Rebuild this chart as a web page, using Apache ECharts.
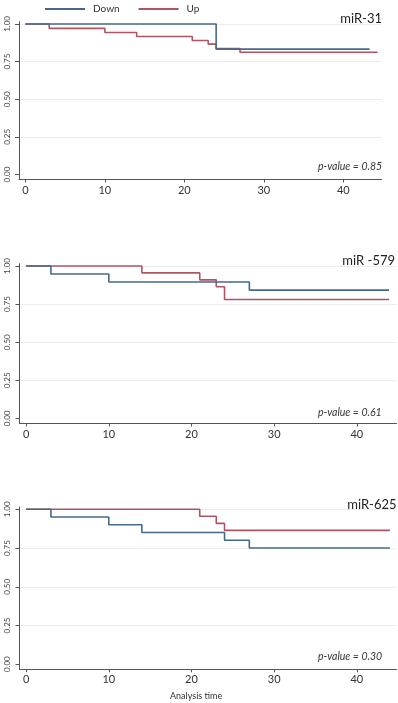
<!DOCTYPE html>
<html>
<head>
<meta charset="utf-8">
<script src="https://cdn.jsdelivr.net/npm/echarts@6/dist/echarts.min.js"></script>
<style>
  html, body { margin: 0; padding: 0; background: #fff; }
  #chart { width: 398px; height: 703px; }
</style>
</head>
<body>
<div id="chart"></div>
<script>
// Kaplan-Meier steps: times and survival per panel
const panelNames = ['miR-31', 'miR -579', 'miR-625'];
const pValues = ['p-value = 0.85', 'p-value = 0.61', 'p-value = 0.30'];

const p1DownT = [0, 24, 43.3];
const p1DownS = [1, 0.833, 0.833];
const p1UpT = [0, 3, 10, 14, 21, 23, 24, 27, 44.3];
const p1UpS = [1, 0.971, 0.943, 0.917, 0.89, 0.866, 0.836, 0.812, 0.812];

const p2DownT = [0, 3, 10, 27, 43.9];
const p2DownS = [1, 0.947, 0.895, 0.842, 0.842];
const p2UpT = [0, 14, 21, 23, 24, 43.9];
const p2UpS = [1, 0.955, 0.909, 0.864, 0.78, 0.78];

const p3DownT = [0, 3, 10, 14, 24, 27, 44];
const p3DownS = [1, 0.95, 0.9, 0.85, 0.8, 0.75, 0.75];
const p3UpT = [0, 21, 23, 24, 44];
const p3UpS = [1, 0.955, 0.909, 0.864, 0.864];

const xTicks = [0, 10, 20, 30, 40];
const yTicks = [0, 0.25, 0.5, 0.75, 1];
const gridVals = [0.25, 0.5, 0.75, 1];

const downColor = '#45698a';
const upColor = '#ad5563';
const axisColor = '#555';
const fontFamily = 'Lato, "Open Sans", sans-serif';

const panels = [
    { down: [p1DownT, p1DownS], up: [p1UpT, p1UpS] },
    { down: [p2DownT, p2DownS], up: [p2UpT, p2UpS] },
    { down: [p3DownT, p3DownS], up: [p3UpT, p3UpS] }
];

const grids = [
    { left: 19, top: 21.7, width: 362.5, height: 157.8 },
    { left: 19.5, top: 263.7, width: 377, height: 159.8 },
    { left: 19.5, top: 507, width: 377, height: 162.3 }
];

function zip(t, s) {
    return t.map((v, i) => [v, s[i]]);
}

let xAxes = [];
let yAxes = [];
let series = [];

for (let i = 0; i < panels.length; i++) {
    xAxes.push({
        gridIndex: i,
        type: 'value',
        min: -0.8,
        max: 44.8,
        axisLine: { show: true, onZero: false, lineStyle: { color: axisColor, width: 1 } },
        axisTick: { show: true, length: 3, customValues: xTicks, lineStyle: { color: axisColor } },
        axisLabel: { customValues: xTicks, fontSize: 11, margin: 5, color: '#333', fontFamily },
        splitLine: { show: false }
    });
    yAxes.push({
        gridIndex: i,
        type: 'value',
        min: -0.033,
        max: 1.015,
        axisLine: { show: true, onZero: false, lineStyle: { color: axisColor, width: 1 } },
        axisTick: { show: true, length: 4, customValues: yTicks, lineStyle: { color: axisColor } },
        axisLabel: {
            customValues: yTicks,
            rotate: 90,
            fontSize: 8,
            margin: 8,
            color: '#444',
            fontFamily,
            formatter: v => v.toFixed(2)
        },
        splitLine: { show: false }
    });

    // faint horizontal gridlines
    series.push({
        name: 'grid' + i,
        type: 'line',
        xAxisIndex: i,
        yAxisIndex: i,
        data: [],
        z: 0,
        markLine: {
            silent: true,
            z: 0,
            symbol: 'none',
            label: { show: false },
            lineStyle: { color: '#ececec', type: 'solid', width: 1 },
            data: gridVals.map(v => ({ yAxis: v }))
        }
    });

    series.push({
        name: 'Up',
        type: 'line',
        step: 'end',
        xAxisIndex: i,
        yAxisIndex: i,
        showSymbol: false,
        z: 3,
        color: upColor,
        lineStyle: { color: upColor, width: 1.6 },
        data: zip(panels[i].up[0], panels[i].up[1])
    });
    series.push({
        name: 'Down',
        type: 'line',
        step: 'end',
        xAxisIndex: i,
        yAxisIndex: i,
        showSymbol: false,
        z: 4,
        color: downColor,
        lineStyle: { color: downColor, width: 1.6 },
        data: zip(panels[i].down[0], panels[i].down[1])
    });
}

const nameTops = [12, 254, 498];
const nameRights = [16, 3, 1.5];
const pTops = [161.5, 407, 651.5];

let titles = [];
for (let i = 0; i < panels.length; i++) {
    titles.push({
        text: panelNames[i],
        right: nameRights[i],
        top: nameTops[i],
        padding: 0,
        textStyle: { fontSize: 13, fontWeight: 'normal', color: '#222', fontFamily }
    });
    titles.push({
        text: pValues[i],
        left: 318,
        top: pTops[i],
        padding: 0,
        textStyle: { fontSize: 10.5, fontStyle: 'italic', fontWeight: 'normal', color: '#333', fontFamily }
    });
}
titles.push({
    text: 'Analysis time',
    left: 170,
    top: 692,
    padding: 0,
    textStyle: { fontSize: 9, fontWeight: 'normal', color: '#333', fontFamily }
});

let myChart = echarts.init(document.getElementById('chart'));
let option = {
    animation: false,
    title: titles,
    legend: {
        top: -1,
        left: 40,
        icon: 'rect',
        itemWidth: 40,
        itemHeight: 2,
        itemGap: 19,
        data: ['Down', 'Up'],
        textStyle: { fontSize: 10, color: '#333', fontFamily, padding: [0, 0, 0, 3] }
    },
    grid: grids,
    xAxis: xAxes,
    yAxis: yAxes,
    series
};

option && myChart.setOption(option);
</script>
</body>
</html>
